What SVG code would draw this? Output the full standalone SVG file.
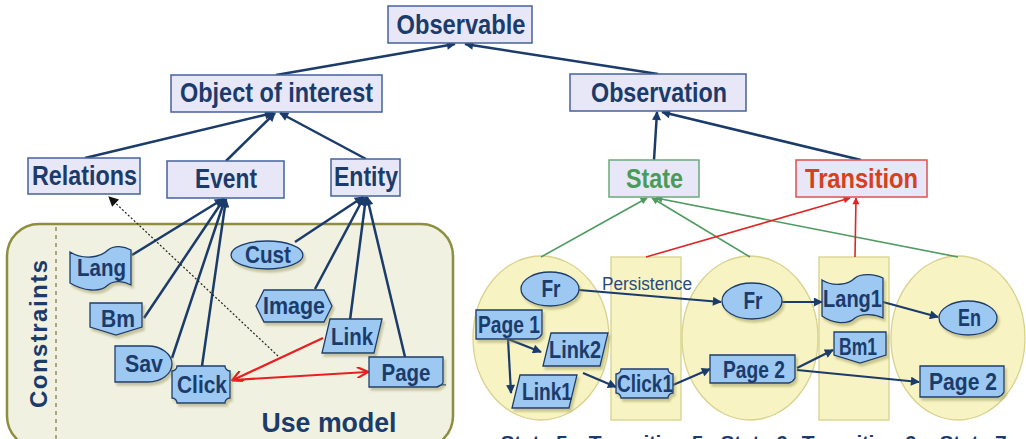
<svg xmlns="http://www.w3.org/2000/svg" width="1026" height="439" viewBox="0 0 1026 439">
<style>
text{font-family:"Liberation Sans",Arial,sans-serif;font-weight:bold;fill:#1b3b6b;text-anchor:middle}
.big{font-size:27px}
.sm{font-size:23px}
.lbl{font-size:21px;letter-spacing:-0.3px}
.box{fill:#e7e7f8;stroke:#44639c;stroke-width:1.5}
.nd{fill:#9cc8f2;stroke:#1d3d6b;stroke-width:1.3;filter:url(#sh)}
.st{fill:#f7f3c2;stroke:#d8d28e;stroke-width:1.3}
.nv{stroke:#1b3b6b;stroke-width:2.5;fill:none;marker-end:url(#an)}
.nv2{stroke:#1b3b6b;stroke-width:2.2;fill:none;marker-end:url(#an2)}
.gr{stroke:#4f9a60;stroke-width:1.6;fill:none;marker-end:url(#ag)}
.rd{stroke:#e02525;stroke-width:1.6;fill:none;marker-end:url(#ar)}
.rd2{stroke:#e62020;stroke-width:2.2;fill:none;marker-end:url(#arv)}
</style>
<defs>
<filter id="sh" x="-20%" y="-20%" width="150%" height="160%"><feDropShadow dx="2" dy="3" stdDeviation="1.2" flood-color="#8e8e52" flood-opacity="0.45"/></filter>
<marker id="an" viewBox="0 0 10 10" refX="9" refY="5" markerWidth="11" markerHeight="9" markerUnits="userSpaceOnUse" orient="auto"><path d="M0,0 L10,5 L0,10 Z" fill="#1b3b6b"/></marker>
<marker id="an2" viewBox="0 0 10 10" refX="9" refY="5" markerWidth="10" markerHeight="9" markerUnits="userSpaceOnUse" orient="auto"><path d="M0,0 L10,5 L0,10 Z" fill="#1b3b6b"/></marker>
<marker id="ag" viewBox="0 0 10 10" refX="9" refY="5" markerWidth="9" markerHeight="7" markerUnits="userSpaceOnUse" orient="auto"><path d="M0,0 L10,5 L0,10 Z" fill="#4f9a60"/></marker>
<marker id="ar" viewBox="0 0 10 10" refX="9" refY="5" markerWidth="9" markerHeight="7" markerUnits="userSpaceOnUse" orient="auto"><path d="M0,0 L10,5 L0,10 Z" fill="#e02525"/></marker>
<marker id="arv" viewBox="0 0 10 10" refX="9" refY="5" markerWidth="12" markerHeight="11" markerUnits="userSpaceOnUse" orient="auto"><path d="M0,0 L10,5 L0,10" fill="none" stroke="#e62020" stroke-width="2"/></marker>
<marker id="ak" viewBox="0 0 10 10" refX="9" refY="5" markerWidth="12" markerHeight="10" markerUnits="userSpaceOnUse" orient="auto"><path d="M0,0 L10,5 L0,10 Z" fill="#111"/></marker>
</defs>

<g id="use-model-area">
<rect x="7" y="224" width="446" height="224" rx="32" fill="#f1f1e1" stroke="#8e8e40" stroke-width="2.5"/>
<line x1="56" y1="227" x2="56" y2="439" stroke="#a8a878" stroke-width="2" stroke-dasharray="4,4"/>
<text transform="translate(47,334) rotate(-90)" style="font-size:24px" textLength="148" lengthAdjust="spacing">Constraints</text>
<text x="329" y="432" style="font-size:27px" textLength="135" lengthAdjust="spacingAndGlyphs">Use model</text>
</g>

<g id="states-area">
<ellipse cx="541" cy="338" rx="68" ry="82" class="st"/>
<rect x="611" y="257" width="70" height="163" class="st"/>
<ellipse cx="750" cy="338" rx="68" ry="82" class="st"/>
<rect x="819" y="257" width="70" height="163" class="st"/>
<ellipse cx="958" cy="338" rx="67" ry="82" class="st"/>
<text x="647" y="290" style="font-size:18px;font-weight:normal;fill:#2b4a7b" textLength="90" lengthAdjust="spacingAndGlyphs">Persistence</text>
</g>

<g id="connectors">
<line x1="276" y1="75" x2="455" y2="44" class="nv"/>
<line x1="658" y1="74" x2="465" y2="44" class="nv"/>
<line x1="85" y1="158" x2="273" y2="113" class="nv"/>
<line x1="226" y1="161" x2="275" y2="113" class="nv"/>
<line x1="366" y1="159" x2="280" y2="113" class="nv"/>
<line x1="654" y1="160" x2="657" y2="112" class="nv"/>
<line x1="861" y1="160" x2="662" y2="112" class="nv"/>
<line x1="132" y1="255" x2="223" y2="199" class="nv"/>
<line x1="144" y1="318" x2="224" y2="199" class="nv"/>
<line x1="172" y1="358" x2="225" y2="199" class="nv"/>
<line x1="202" y1="366" x2="226" y2="199" class="nv"/>
<line x1="295" y1="242" x2="363" y2="197" class="nv"/>
<line x1="315" y1="289" x2="364" y2="197" class="nv"/>
<line x1="350" y1="320" x2="366" y2="197" class="nv"/>
<line x1="405" y1="357" x2="367" y2="197" class="nv"/>
<line x1="278" y1="356" x2="109" y2="197" stroke="#222" stroke-width="1.2" stroke-dasharray="2,2" marker-end="url(#ak)"/>
<line x1="323" y1="338" x2="233" y2="380" class="rd2"/>
<line x1="233" y1="380" x2="367" y2="372" class="rd2"/>
<line x1="541" y1="257" x2="647" y2="198" class="gr"/>
<line x1="750" y1="257" x2="652" y2="198" class="gr"/>
<line x1="958" y1="257" x2="656" y2="198" class="gr"/>
<line x1="646" y1="257" x2="850" y2="198" class="rd"/>
<line x1="855" y1="257" x2="856" y2="198" class="rd"/>
<line x1="579" y1="290" x2="721" y2="302" class="nv2"/>
<line x1="508" y1="339" x2="541" y2="352" class="nv2"/>
<line x1="508" y1="339" x2="511" y2="393" class="nv2"/>
<line x1="583" y1="373" x2="616" y2="387" class="nv2"/>
<line x1="673" y1="385" x2="710" y2="369" class="nv2"/>
<line x1="782" y1="302" x2="822" y2="302" class="nv2"/>
<line x1="883" y1="302" x2="938" y2="317" class="nv2"/>
<line x1="797" y1="368" x2="833" y2="350" class="nv2"/>
<line x1="797" y1="370" x2="919" y2="382" class="nv2"/>
</g>

<g id="observable"><rect x="388" y="6" width="144" height="37" class="box"/><text x="461" y="34" class="big" textLength="129" lengthAdjust="spacingAndGlyphs">Observable</text></g>
<g id="object-of-interest"><rect x="171" y="75" width="211" height="37" class="box"/><text x="276.5" y="102" class="big" textLength="193" lengthAdjust="spacingAndGlyphs">Object of interest</text></g>
<g id="observation"><rect x="570" y="74" width="176" height="37" class="box"/><text x="659" y="102" class="big" textLength="136" lengthAdjust="spacingAndGlyphs">Observation</text></g>
<g id="relations"><rect x="28" y="158" width="112" height="36" class="box"/><text x="84.5" y="185" class="big" textLength="105" lengthAdjust="spacingAndGlyphs">Relations</text></g>
<g id="event"><rect x="167" y="161" width="117" height="37" class="box"/><text x="226" y="188" class="big" textLength="62" lengthAdjust="spacingAndGlyphs">Event</text></g>
<g id="entity"><rect x="331" y="159" width="69" height="37" class="box"/><text x="366" y="186" class="big" textLength="64" lengthAdjust="spacingAndGlyphs">Entity</text></g>
<g id="state"><rect x="609" y="160" width="90" height="37" class="box" style="stroke:#6aaa78"/><text x="654.5" y="188" class="big" style="fill:#4a9a5a" textLength="57" lengthAdjust="spacingAndGlyphs">State</text></g>
<g id="transition"><rect x="796" y="160" width="131" height="37" class="box" style="stroke:#e05050"/><text x="861.5" y="188" class="big" style="fill:#d44020" textLength="113" lengthAdjust="spacingAndGlyphs">Transition</text></g>

<g id="lang"><path class="nd" d="M70,252 C83,260 100,258 108,250 C114,245 124,246 131,250 L131,285 C124,281 114,280 108,285 C100,293 83,291 70,283 Z"/><text x="101.5" y="276" class="sm" textLength="49" lengthAdjust="spacingAndGlyphs">Lang</text></g>
<g id="bm"><path class="nd" d="M90,303 H142 V327 L116,335 L90,327 Z"/><text x="118" y="327" class="sm" textLength="34" lengthAdjust="spacingAndGlyphs">Bm</text></g>
<g id="sav"><path class="nd" d="M115,346 H148 A24,18 0 0 1 148,382 H115 Z"/><text x="144" y="372" class="sm" textLength="38" lengthAdjust="spacingAndGlyphs">Sav</text></g>
<g id="click"><path class="nd" d="M177,366 H225 A5,5 0 0 0 230,371 V398 A5,5 0 0 0 225,403 H177 A5,5 0 0 0 172,398 V371 A5,5 0 0 0 177,366 Z"/><text x="202" y="393" class="sm" textLength="50" lengthAdjust="spacingAndGlyphs">Click</text></g>
<g id="cust"><ellipse class="nd" cx="267" cy="255" rx="36" ry="14"/><text x="268" y="263" class="sm" textLength="46" lengthAdjust="spacingAndGlyphs">Cust</text></g>
<g id="image"><path class="nd" d="M256,306 L264,290 H324 L332,306 L324,322 H264 Z"/><text x="294" y="314" class="sm" textLength="62" lengthAdjust="spacingAndGlyphs">Image</text></g>
<g id="link"><path class="nd" d="M330,319 H382 L374,353 H322 Z"/><text x="352" y="345" class="sm" textLength="42" lengthAdjust="spacingAndGlyphs">Link</text></g>
<g id="page"><path class="nd" d="M369,357 H443 V383 Q441,386 437,387 H369 Z"/><path d="M437,387 Q441,384 446,385" fill="none" stroke="#1d3d6b" stroke-width="1.2"/><text x="406" y="381" class="sm" textLength="49" lengthAdjust="spacingAndGlyphs">Page</text></g>

<g id="fr-5"><ellipse class="nd" cx="550" cy="289" rx="29" ry="17"/><text x="551" y="297" class="sm" textLength="19" lengthAdjust="spacingAndGlyphs">Fr</text></g>
<g id="page1"><path class="nd" d="M476,310 H542 V334 Q540,338 536,339 H476 Z"/><text x="509" y="333" class="sm" textLength="62" lengthAdjust="spacingAndGlyphs">Page 1</text></g>
<g id="link2"><path class="nd" d="M551,333 H608 L600,366 H543 Z"/><text x="575" y="358" class="sm" textLength="52" lengthAdjust="spacingAndGlyphs">Link2</text></g>
<g id="link1"><path class="nd" d="M520,375 H577 L569,408 H512 Z"/><text x="547" y="400" class="sm" textLength="50" lengthAdjust="spacingAndGlyphs">Link1</text></g>
<g id="click1"><path class="nd" d="M621,369 H668 A5,5 0 0 0 673,374 V393 A5,5 0 0 0 668,398 H621 A5,5 0 0 0 616,393 V374 A5,5 0 0 0 621,369 Z"/><text x="645" y="392" class="sm" textLength="56" lengthAdjust="spacingAndGlyphs">Click1</text></g>
<g id="fr-6"><ellipse class="nd" cx="752" cy="301" rx="30" ry="18"/><text x="753" y="309" class="sm" textLength="19" lengthAdjust="spacingAndGlyphs">Fr</text></g>
<g id="page2-6"><path class="nd" d="M710,355 H795 V378 Q793,382 789,383 H710 Z"/><text x="754" y="378" class="sm" textLength="62" lengthAdjust="spacingAndGlyphs">Page 2</text></g>
<g id="lang1"><path class="nd" d="M822,280 C833,287 848,285 855,278 C861,273 875,274 883,278 L883,318 C875,314 862,313 855,318 C848,325 833,324 822,316 Z"/><text x="852.5" y="307" class="sm" textLength="59" lengthAdjust="spacingAndGlyphs">Lang1</text></g>
<g id="bm1"><path class="nd" d="M834,332 H886 V355 L860,363 L834,355 Z"/><text x="858" y="355" class="sm" textLength="38" lengthAdjust="spacingAndGlyphs">Bm1</text></g>
<g id="en"><ellipse class="nd" cx="968" cy="318" rx="29" ry="17"/><text x="969.5" y="326" class="sm" textLength="23" lengthAdjust="spacingAndGlyphs">En</text></g>
<g id="page2-7"><path class="nd" d="M920,366 H1004 V392 Q1002,396 998,397 H920 Z"/><text x="963" y="390" class="sm" textLength="68" lengthAdjust="spacingAndGlyphs">Page 2</text></g>

<g id="state-labels">
<text x="534" y="450" class="lbl">State 5</text>
<text x="646" y="450" class="lbl">Transition 5</text>
<text x="754" y="450" class="lbl">State 6</text>
<text x="859" y="450" class="lbl">Transition 6</text>
<text x="973" y="450" class="lbl">State 7</text>
</g>
</svg>
